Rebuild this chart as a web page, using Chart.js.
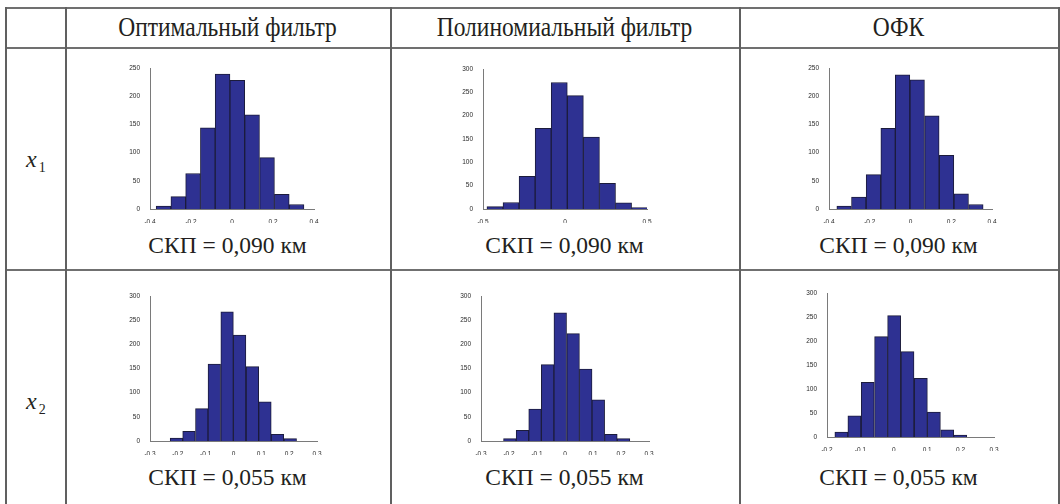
<!DOCTYPE html>
<html><head><meta charset="utf-8">
<script src="https://cdn.jsdelivr.net/npm/chart.js@4.4.0/dist/chart.umd.min.js"></script>
<style>
body{margin:0;background:#fff;}
#wrap{position:relative;width:1060px;height:504px;overflow:hidden;color:#231f20;}
.hl{position:absolute;height:2px;background:#707070;}
.vl{position:absolute;width:2px;background:#606060;}
.txt{font-family:'Liberation Serif','Times New Roman',serif;}
.hdr{position:absolute;text-align:center;font-size:23.5px;line-height:26px;transform:scaleY(1.15);white-space:nowrap;}
.cap{position:absolute;text-align:center;font-size:23.5px;line-height:26px;white-space:nowrap;}
.lab{position:absolute;font-style:italic;font-size:24px;line-height:26px;}
.lab sub{font-style:normal;font-size:14px;vertical-align:-5px;margin-left:2px;}
canvas{position:absolute;}
</style></head>
<body><div id="wrap"></div>
<script>
// ---- data ----
const columnTitles = ["Оптимальный фильтр", "Полиномиальный фильтр", "ОФК"];
const rowSubscripts = ["1", "2"];
const captionsRow1 = ["СКП = 0,090 км", "СКП = 0,090 км", "СКП = 0,090 км"];
const captionsRow2 = ["СКП = 0,055 км", "СКП = 0,055 км", "СКП = 0,055 км"];

const binsX1Opt   = [-0.334, -0.262, -0.190, -0.118, -0.046, 0.026, 0.098, 0.171, 0.243, 0.315];
const countsX1Opt = [5, 22, 63, 144, 239, 228, 167, 91, 26, 8];
const binsX1Pol   = [-0.427, -0.329, -0.231, -0.133, -0.035, 0.063, 0.161, 0.259, 0.357, 0.455];
const countsX1Pol = [5, 14, 70, 173, 271, 243, 154, 55, 13, 3];
const binsX1Ofk   = [-0.326, -0.254, -0.182, -0.110, -0.039, 0.033, 0.105, 0.177, 0.249, 0.321];
const countsX1Ofk = [5, 21, 61, 143, 238, 229, 165, 95, 27, 8];
const binsX2Opt   = [-0.205, -0.160, -0.114, -0.069, -0.023, 0.022, 0.068, 0.113, 0.158, 0.204];
const countsX2Opt = [6, 20, 67, 159, 267, 219, 154, 81, 14, 5];
const binsX2Pol   = [-0.197, -0.152, -0.107, -0.062, -0.017, 0.029, 0.074, 0.119, 0.164, 0.209];
const countsX2Pol = [5, 22, 66, 158, 265, 222, 149, 85, 14, 5];
const binsX2Ofk   = [-0.157, -0.118, -0.078, -0.038, 0.001, 0.041, 0.081, 0.120, 0.160, 0.199];
const countsX2Ofk = [10, 44, 114, 209, 253, 178, 122, 52, 15, 4];

const xTicksA = [-0.4, -0.2, 0, 0.2, 0.4];
const xTicksB = [-0.5, 0, 0.5];
const xTicksC = [-0.3, -0.2, -0.1, 0, 0.1, 0.2, 0.3];
const xTicksD = [-0.2, -0.1, 0, 0.1, 0.2, 0.3];
const yTicks250 = [0, 50, 100, 150, 200, 250];
const yTicks300 = [0, 50, 100, 150, 200, 250, 300];

// ---- layout ----
const wrap = document.getElementById('wrap');
function el(cls, css, html){ const d=document.createElement('div'); d.className=cls; Object.assign(d.style, css); if(html!==undefined) d.innerHTML=html; wrap.appendChild(d); return d; }

const colX = [5, 65, 390, 739, 1058];
const rowY = [7, 47, 269, 504];
el('hl', {left:colX[0]+'px', top:rowY[0]+'px', width:(colX[4]-colX[0]+2)+'px'});
el('hl', {left:colX[0]+'px', top:rowY[1]+'px', width:(colX[4]-colX[0]+2)+'px'});
el('hl', {left:colX[0]+'px', top:rowY[2]+'px', width:(colX[4]-colX[0]+2)+'px'});
colX.forEach(x => el('vl', {left:x+'px', top:rowY[0]+'px', height:(rowY[3]-rowY[0])+'px'}));

columnTitles.forEach((t,i) => {
  el('hdr txt', {left:colX[i+1]+'px', width:(colX[i+2]-colX[i+1])+'px', top:'14px'}, t);
});
const capRows = [captionsRow1, captionsRow2];
const capTop = [232, 464];
capRows.forEach((row,r) => row.forEach((t,i) => {
  el('cap txt', {left:colX[i+1]+'px', width:(colX[i+2]-colX[i+1])+'px', top:capTop[r]+'px'}, t);
}));
const labTop = [146, 388];
rowSubscripts.forEach((s,r) => el('lab txt', {left:'26px', top:labTop[r]+'px'}, 'x<sub>'+s+'</sub>'));

const charts = [
  {bins:binsX1Opt, counts:countsX1Opt, xt:xTicksA, yt:yTicks250, l:150, t:68, r:314, b:209},
  {bins:binsX1Pol, counts:countsX1Pol, xt:xTicksB, yt:yTicks300, l:483, t:69, r:647, b:209},
  {bins:binsX1Ofk, counts:countsX1Ofk, xt:xTicksA, yt:yTicks250, l:829, t:68, r:992, b:209},
  {bins:binsX2Opt, counts:countsX2Opt, xt:xTicksC, yt:yTicks300, l:150, t:296, r:317, b:441},
  {bins:binsX2Pol, counts:countsX2Pol, xt:xTicksC, yt:yTicks300, l:481, t:296, r:649, b:441},
  {bins:binsX2Ofk, counts:countsX2Ofk, xt:xTicksD, yt:yTicks300, l:827, t:293, r:994, b:437},
];
const yW = 22, padTop = 8, padRight = 14, xH = 14;
const tickFont = {family:"'Liberation Sans', Arial, sans-serif", size:6.5};
charts.forEach(c => {
  const cv = document.createElement('canvas');
  const W = (c.r - c.l) + yW + padRight, H = (c.b - c.t) + padTop + xH;
  cv.style.left = (c.l - yW) + 'px'; cv.style.top = (c.t - padTop) + 'px';
  cv.style.width = W + 'px'; cv.style.height = H + 'px';
  cv.width = W; cv.height = H;
  wrap.appendChild(cv);
  new Chart(cv, {
    type: 'bar',
    data: { datasets: [{
      data: c.bins.map((x,i) => ({x, y:c.counts[i]})),
      backgroundColor: '#2e3192', borderColor: '#1c1c3c', borderWidth: 1,
      barPercentage: 1, categoryPercentage: 1, borderSkipped: 'start'
    }]},
    options: {
      responsive: false, animation: false, devicePixelRatio: 1,
      layout: {padding: {top: padTop, right: padRight, left: 0, bottom: 0}},
      plugins: {legend: {display: false}, tooltip: {enabled: false}},
      scales: {
        x: { type: 'linear', offset: false, min: c.xt[0], max: c.xt[c.xt.length-1],
             grid: {display: false}, border: {display: true, color: '#7a7a7a', width: 1},
             afterBuildTicks: s => { s.ticks = c.xt.map(v => ({value: v})); },
             afterFit: s => { s.height = xH; },
             ticks: {font: tickFont, color: '#2a2a2a', padding: 1, maxRotation: 0, autoSkip: false, callback: v => String(v)} },
        y: { min: 0, max: c.yt[c.yt.length-1],
             grid: {display: false}, border: {display: true, color: '#7a7a7a', width: 1},
             afterBuildTicks: s => { s.ticks = c.yt.map(v => ({value: v})); },
             afterFit: s => { s.width = yW; },
             ticks: {font: tickFont, color: '#2a2a2a', padding: 2, autoSkip: false, callback: v => String(v)} }
      }
    }
  });
});
</script>
</body></html>
